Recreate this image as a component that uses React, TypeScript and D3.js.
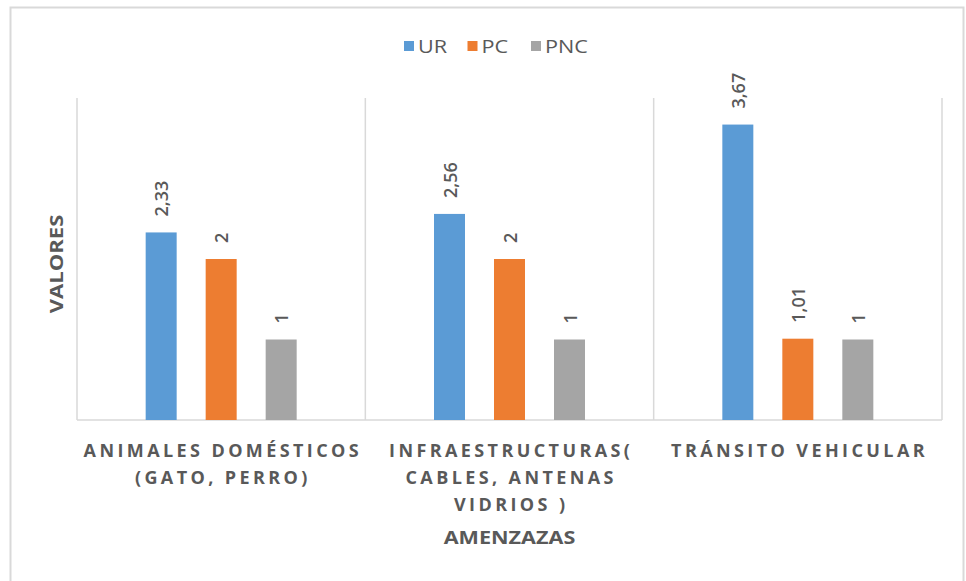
import React from "react";
import * as d3 from "d3";

const categoryLines: string[][] = [
  ["ANIMALES DOMÉSTICOS", "(GATO, PERRO)"],
  ["INFRAESTRUCTURAS(", "CABLES, ANTENAS", "VIDRIOS )"],
  ["TRÁNSITO VEHICULAR"],
];
const categoryKeys = ["animales", "infraestructuras", "transito"];
const seriesNames = ["UR", "PC", "PNC"];
const urValues = [2.33, 2.56, 3.67];
const pcValues = [2, 2, 1.01];
const pncValues = [1, 1, 1];
const seriesColors = ["#5B9BD5", "#ED7D31", "#A5A5A5"];
const yTitle = "VALORES";
const xTitle = "AMENZAZAS";

const W = 966;
const H = 581;
const plot = { left: 77, right: 942, top: 98, bottom: 420 };
const TEXT = "#595959";
const GRID = "#D9D9D9";
const FONT = "'Open Sans', Lato, sans-serif";
const STRETCH = 1.2;

export default function App() {
  const seriesValues = [urValues, pcValues, pncValues];
  const x0 = d3.scaleBand<string>().domain(categoryKeys).range([plot.left, plot.right]).padding(0);
  const groupW = 151;
  const x1 = d3.scaleBand<string>().domain(seriesNames).range([0, groupW]).paddingInner(29 / 60).paddingOuter(0);
  const y = d3.scaleLinear().domain([0, 4]).range([plot.bottom, plot.top]);
  const fmt = (v: number) => String(v).replace(".", ",");
  const groupOffset = (x0.bandwidth() - groupW) / 2;

  const dividers = [...categoryKeys.map((k) => x0(k) as number), plot.right];

  return (
    <div style={{ position: "fixed", left: 0, top: 0 }}>
      <svg width={W} height={H} style={{ display: "block", background: "#fff" }} fontFamily={FONT}>
        <rect x={10.5} y={7.5} width={953} height={590} fill="#fff" stroke="#D9D9D9" strokeWidth={2} />
        {dividers.map((dx, i) => (
          <line key={"d" + i} x1={dx} x2={dx} y1={plot.top} y2={plot.bottom} stroke={GRID} strokeWidth={1.5} />
        ))}
        <line x1={plot.left} x2={plot.right} y1={plot.bottom} y2={plot.bottom} stroke={GRID} strokeWidth={1.5} />
        {categoryKeys.map((c, ci) => (
          <g key={c}>
            {seriesNames.map((s, si) => {
              const v = seriesValues[si][ci];
              const bx = (x0(c) as number) + groupOffset + (x1(s) as number);
              const bw = x1.bandwidth();
              const cx = bx + bw / 2;
              const ly = y(v) - 16;
              return (
                <g key={s}>
                  <rect x={bx} y={y(v)} width={bw} height={y(0) - y(v)} fill={seriesColors[si]} />
                  <text
                    transform={`translate(${cx},${ly}) rotate(-90)`}
                    textAnchor="start"
                    dominantBaseline="central"
                    fontSize={18}
                    fill={TEXT}
                    fontWeight={600}
                  >
                    {fmt(v)}
                  </text>
                </g>
              );
            })}
          </g>
        ))}
        {categoryKeys.map((c, ci) => {
          const cx = (x0(c) as number) + x0.bandwidth() / 2;
          return (
            <text key={"cl" + c} textAnchor="middle" fontSize={18} fontWeight={700} fill={TEXT} letterSpacing={3.4}>
              {categoryLines[ci].map((ln, li) => (
                <tspan key={li} x={cx + 1.7} y={457 + li * 27}>
                  {ln}
                </tspan>
              ))}
            </text>
          );
        })}
        <text
          transform={`translate(${(plot.left + plot.right) / 2},544) scale(${STRETCH},1)`}
          textAnchor="middle"
          fontSize={18}
          fontWeight={700}
          fill={TEXT}
        >
          {xTitle}
        </text>
        <text
          transform={`translate(57,264) rotate(-90) scale(1.3,1)`}
          textAnchor="middle"
          dominantBaseline="central"
          fontSize={17}
          fontWeight={700}
          fill={TEXT}
        >
          {yTitle}
        </text>
        {seriesNames.map((s, i) => {
          const lx = 404 + i * 63.5;
          return (
            <g key={"lg" + s}>
              <rect x={lx} y={41} width={10} height={10} fill={seriesColors[i]} />
              <text transform={`translate(${lx + 14},53) scale(${STRETCH},1)`} fontSize={18} fill={TEXT}>
                {s}
              </text>
            </g>
          );
        })}
      </svg>
    </div>
  );
}
